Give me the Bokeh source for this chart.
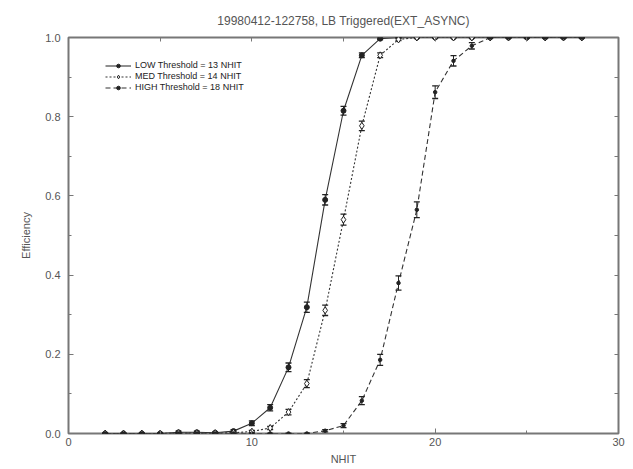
from bokeh.plotting import figure
from bokeh.models import (LinearAxis, Legend, LegendItem, FixedTicker, Range1d,
                          ColumnDataSource, CustomJSTickFormatter)
from bokeh.embed import file_html
from bokeh.resources import INLINE

# ---- data ----
nhit = list(range(2, 29))

low_eff = [0.0, 0.0, 0.0, 0.0, 0.003, 0.003, 0.002, 0.006, 0.026, 0.065, 0.167, 0.319, 0.590,
           0.815, 0.955, 0.997, 1.0, 1.0, 1.0, 1.0, 1.0, 1.0, 1.0, 1.0, 1.0, 1.0, 1.0]
low_err = [0.0, 0.0, 0.0, 0.0, 0.003, 0.003, 0.002, 0.004, 0.006, 0.008, 0.011, 0.013, 0.013,
           0.011, 0.006, 0.002, 0.0, 0.0, 0.0, 0.0, 0.0, 0.0, 0.0, 0.0, 0.0, 0.0, 0.0]

med_eff = [0.0, 0.0, 0.0, 0.0, 0.001, 0.001, 0.001, 0.002, 0.005, 0.014, 0.054, 0.126, 0.311,
           0.540, 0.777, 0.955, 0.995, 1.0, 1.0, 1.0, 1.0, 1.0, 1.0, 1.0, 1.0, 1.0, 1.0]
med_err = [0.0, 0.0, 0.0, 0.0, 0.001, 0.001, 0.001, 0.002, 0.003, 0.004, 0.007, 0.010, 0.013,
           0.014, 0.012, 0.006, 0.003, 0.0, 0.0, 0.0, 0.0, 0.0, 0.0, 0.0, 0.0, 0.0, 0.0]

high_eff = [0.0, 0.0, 0.0, 0.0, 0.0, 0.0, 0.0, 0.0, 0.0, 0.0, 0.0, 0.0, 0.007,
            0.020, 0.083, 0.186, 0.380, 0.565, 0.862, 0.941, 0.979, 1.0, 1.0, 1.0, 1.0, 1.0, 1.0]
high_err = [0.0, 0.0, 0.0, 0.0, 0.0, 0.0, 0.0, 0.0, 0.0, 0.0, 0.0, 0.0, 0.003,
            0.005, 0.010, 0.014, 0.018, 0.020, 0.016, 0.013, 0.008, 0.0, 0.0, 0.0, 0.0, 0.0, 0.0]

labels = ["LOW Threshold = 13 NHIT", "MED Threshold = 14 NHIT", "HIGH Threshold = 18 NHIT"]
title_text = "19980412-122758, LB Triggered(EXT_ASYNC)"
x_ticks = [0, 10, 20, 30]
x_minor = [5, 15, 25]
y_ticks = [0.0, 0.2, 0.4, 0.6, 0.8, 1.0]
y_minor = [0.1, 0.3, 0.5, 0.7, 0.9]

FONT = "Liberation Sans"
GRAY = "#555555"
INK = "#222222"
FRAME = "#777777"

p = figure(width=633, height=469, output_backend="svg", toolbar_location=None,
           x_range=Range1d(0, 30), y_range=Range1d(0, 1.0),
           min_border_left=68, min_border_right=15, min_border_top=37, min_border_bottom=36)
p.title.text = title_text
p.title.align = "center"
p.title.text_font = FONT
p.title.text_font_style = "normal"
p.title.text_font_size = "12px"
p.title.text_color = GRAY
p.title.offset = 30
p.title.standoff = 19

p.grid.visible = False
p.outline_line_color = FRAME
p.outline_line_width = 2

p.xaxis.ticker = FixedTicker(ticks=x_ticks, minor_ticks=x_minor)
p.yaxis.ticker = FixedTicker(ticks=y_ticks, minor_ticks=y_minor)
p.xaxis.axis_label = "NHIT"
p.yaxis.axis_label = "Efficiency"
p.yaxis.formatter = CustomJSTickFormatter(code="return tick.toFixed(1);")
for ax in [p.xaxis[0], p.yaxis[0]]:
    ax.axis_line_color = None
    ax.major_tick_in = 5
    ax.major_tick_out = 0
    ax.minor_tick_in = 3
    ax.minor_tick_out = 0
    ax.major_tick_line_color = FRAME
    ax.minor_tick_line_color = FRAME
    ax.major_label_text_font = FONT
    ax.major_label_text_font_size = "11px"
    ax.major_label_text_color = GRAY
    ax.axis_label_text_font = FONT
    ax.axis_label_text_font_size = "11px"
    ax.axis_label_text_font_style = "normal"
    ax.axis_label_text_color = GRAY
p.xaxis.major_label_standoff = 4
p.xaxis.axis_label_standoff = 4
p.yaxis.major_label_standoff = 8
p.yaxis.axis_label_standoff = 10

# tick marks on the opposite sides (no labels: every tick is a minor tick)
for side, tk in [("right", y_ticks + y_minor), ("above", x_ticks + x_minor)]:
    ax = LinearAxis(ticker=FixedTicker(ticks=[], minor_ticks=sorted(tk)))
    ax.axis_line_color = None
    ax.major_tick_line_color = None
    ax.minor_tick_in = 4
    ax.minor_tick_out = 0
    ax.minor_tick_line_color = FRAME
    p.add_layout(ax, side)

styles = [
    (low_eff, low_err, "solid", "circle", INK, 5),
    (med_eff, med_err, "2 2", "diamond", "white", 7),
    (high_eff, high_err, "5 3", "circle", INK, 3.5),
]
items = []
for (eff, err, dash, marker, fill, size), lab in zip(styles, labels):
    src = ColumnDataSource(dict(
        x=nhit, y=eff,
        lo=[e - d for e, d in zip(eff, err)],
        hi=[min(e + d, 1.0) for e, d in zip(eff, err)],
    ))
    ln = p.line("x", "y", source=src, line_color="#333333", line_width=1.1, line_dash=dash)
    p.segment("x", "lo", "x", "hi", source=src, line_color=INK, line_width=1)
    p.scatter("x", "lo", source=src, marker="dash", size=6, line_color=INK, line_width=1.3)
    p.scatter("x", "hi", source=src, marker="dash", size=6, line_color=INK, line_width=1.3)
    sc = p.scatter("x", "y", source=src, marker=marker, size=size, line_color=INK,
                   fill_color=fill, line_width=1)
    items.append(LegendItem(label=lab, renderers=[ln, sc]))

legend = Legend(items=items, location=(37, 341), padding=0, margin=0, spacing=1,
                border_line_color=None, background_fill_alpha=0,
                label_text_font=FONT, label_text_font_size="9px", label_text_color=INK,
                glyph_width=26, glyph_height=9, label_height=9, label_standoff=4)
p.add_layout(legend, "center")

open("out.html", "w").write(file_html(p, INLINE))
